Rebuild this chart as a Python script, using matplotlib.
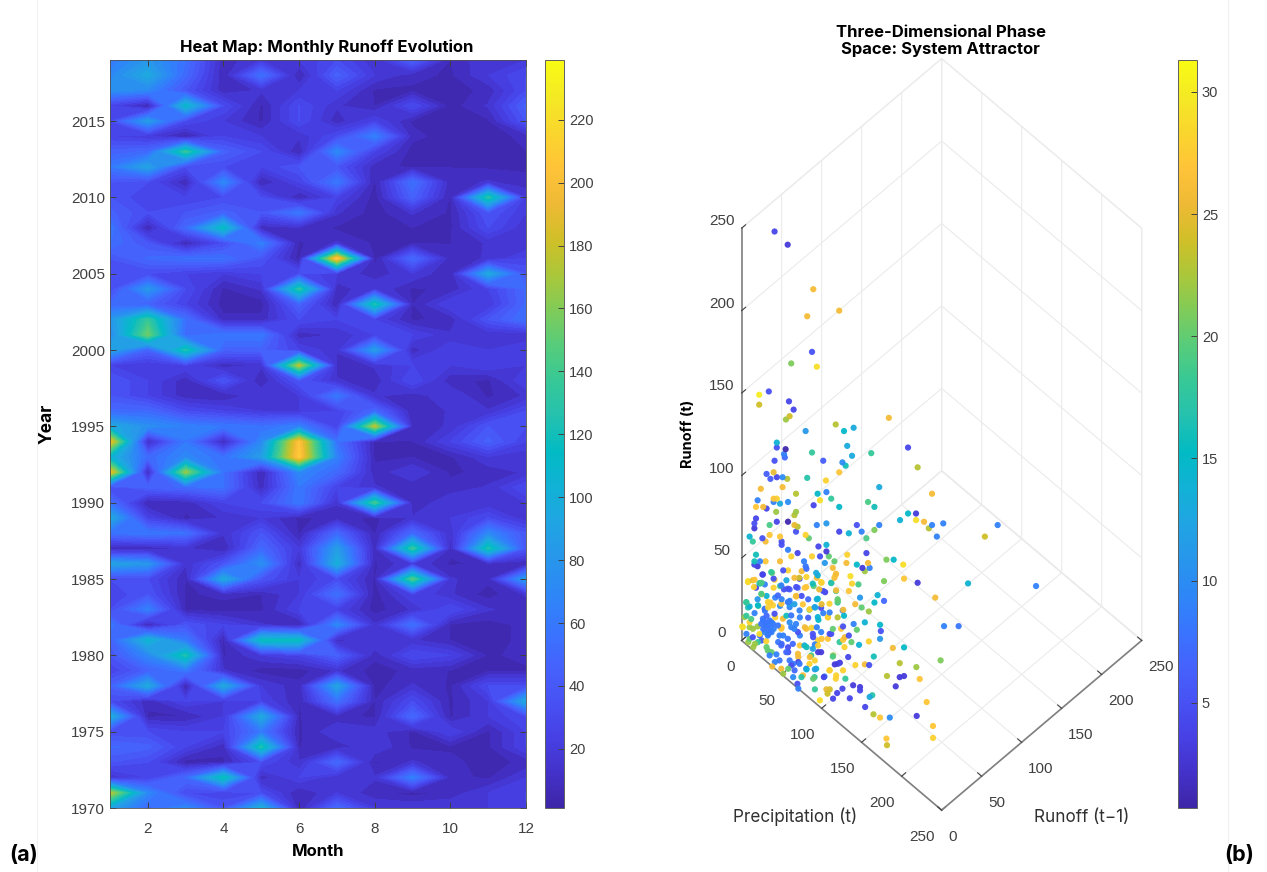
import numpy as np
import matplotlib
matplotlib.use('Agg')
import matplotlib.pyplot as plt
from matplotlib.cm import ScalarMappable
from matplotlib.colors import LinearSegmentedColormap, Normalize
from matplotlib.lines import Line2D

months = np.arange(1, 13)
years = np.arange(1970, 2020)
month_ticks = [2, 4, 6, 8, 10, 12]
year_ticks = [1970, 1975, 1980, 1985, 1990, 1995, 2000, 2005, 2010, 2015]
heat_cbar_ticks = [20, 40, 60, 80, 100, 120, 140, 160, 180, 200, 220]
phase_ticks = [0, 50, 100, 150, 200, 250]
day_ticks = [5, 10, 15, 20, 25, 30]

# monthly runoff, newest year first
runoff_rows = [
    [60, 80, 55, 9, 19, 19, 31, 14, 45, 7, 19, 19],  # 2019
    [70, 95, 50, 7, 55, 6, 45, 19, 9, 6, 19, 31],
    [75, 70, 37, 9, 14, 19, 25, 6, 6, 4, 9, 31],
    [25, 4, 110, 31, 6, 31, 14, 7, 31, 4, 14, 45],
    [31, 85, 31, 19, 6, 31, 9, 25, 6, 4, 6, 37],  # 2015
    [25, 19, 4, 25, 19, 14, 31, 65, 9, 4, 4, 9],
    [45, 50, 135, 45, 31, 7, 70, 25, 4, 4, 4, 7],
    [60, 90, 31, 31, 25, 37, 37, 9, 6, 7, 6, 6],
    [37, 31, 7, 70, 6, 25, 60, 6, 55, 9, 14, 9],
    [37, 25, 25, 31, 31, 7, 25, 4, 45, 6, 130, 19],  # 2010
    [45, 31, 37, 45, 37, 60, 14, 4, 14, 6, 37, 19],
    [60, 6, 50, 115, 9, 12, 6, 6, 7, 6, 31, 14],
    [55, 37, 6, 31, 65, 6, 14, 6, 7, 7, 14, 14],
    [37, 50, 55, 55, 37, 4, 210, 4, 50, 9, 14, 25],
    [31, 31, 25, 19, 25, 31, 19, 9, 19, 7, 95, 37],  # 2005
    [31, 80, 31, 6, 14, 130, 9, 19, 6, 9, 25, 50],
    [50, 45, 25, 4, 4, 45, 7, 125, 7, 25, 19, 50],
    [80, 135, 55, 9, 9, 31, 25, 25, 6, 9, 37, 55],
    [70, 155, 50, 60, 60, 9, 14, 25, 25, 14, 14, 14],
    [90, 45, 125, 45, 45, 25, 14, 85, 9, 25, 19, 25],  # 2000
    [25, 19, 25, 9, 14, 175, 9, 14, 25, 19, 25, 19],
    [37, 25, 9, 37, 7, 37, 14, 9, 31, 9, 6, 25],
    [37, 25, 9, 7, 19, 19, 60, 14, 9, 19, 6, 14],
    [50, 50, 31, 25, 19, 19, 25, 50, 7, 14, 14, 31],
    [95, 75, 65, 60, 55, 65, 25, 175, 9, 14, 37, 31],  # 1995
    [195, 9, 60, 7, 70, 205, 55, 6, 7, 25, 45, 25],
    [105, 50, 70, 55, 85, 210, 65, 6, 7, 6, 19, 14],
    [195, 7, 165, 55, 6, 70, 50, 9, 19, 6, 9, 14],
    [31, 45, 50, 55, 9, 60, 25, 14, 9, 9, 14, 31],
    [55, 6, 9, 25, 31, 60, 14, 140, 7, 19, 14, 19],  # 1990
    [95, 25, 6, 14, 19, 6, 9, 6, 14, 19, 31, 14],
    [55, 60, 55, 14, 37, 6, 50, 6, 50, 14, 70, 37],
    [6, 7, 14, 6, 50, 19, 85, 9, 135, 9, 125, 37],
    [90, 80, 14, 37, 75, 9, 100, 6, 19, 6, 9, 7],
    [31, 31, 7, 95, 37, 19, 31, 6, 145, 14, 9, 85],  # 1985
    [25, 37, 6, 9, 7, 19, 55, 4, 25, 14, 4, 14],
    [31, 65, 6, 4, 6, 25, 25, 4, 14, 31, 14, 9],
    [60, 6, 37, 25, 14, 6, 70, 14, 55, 6, 4, 9],
    [45, 105, 60, 6, 115, 115, 9, 19, 14, 7, 4, 9],
    [37, 70, 125, 6, 19, 25, 45, 9, 31, 25, 6, 9],  # 1980
    [25, 45, 60, 14, 4, 4, 14, 4, 9, 7, 6, 6],
    [45, 95, 4, 95, 19, 9, 90, 4, 14, 6, 31, 31],
    [31, 9, 25, 19, 25, 7, 55, 7, 31, 6, 19, 95],
    [100, 6, 7, 19, 95, 7, 9, 6, 50, 6, 19, 31],
    [31, 31, 25, 25, 60, 6, 19, 16, 6, 25, 6, 25],  # 1975
    [50, 45, 25, 9, 125, 7, 9, 19, 6, 6, 6, 25],
    [37, 31, 4, 6, 31, 14, 50, 6, 14, 9, 4, 9],
    [14, 25, 50, 120, 9, 25, 14, 14, 65, 9, 6, 19],
    [175, 70, 31, 25, 31, 7, 19, 9, 4, 9, 19, 25],
    [90, 50, 70, 37, 100, 6, 50, 19, 19, 19, 19, 25],  # 1970
]

# a flat picture can't give depth, so the points above the floor are taken
# with precipitation = previous runoff, the ones on the floor with runoff 0
upper_precip = [
    20.6, 28.8, 44.8, 41, 61, 44, 31, 47, 11, 17, 11, 29.6, 32.5, 30, 27.7, 58.8, 64, 70, 92, 40,
    22, 22, 27.5, 104, 66, 44, 81, 69, 26.5, 27, 20.6, 51, 63, 65, 110, 20, 15.6, 61, 18, 22,
    25.6, 28.5, 41, 52.7, 86, 12, 25.6, 34, 47.5, 53, 119, 20, 22, 10, 20, 24, 29, 49, 56, 45,
    61, 79, 83, 9, 13.5, 15.6,
    21.6, 34, 33, 9, 8, 17.5, 22, 29, 33, 35, 47, 53, 72, 99, 104, 109, 109, 114, 119, 126,
    117, 160, 152, 122, 86, 83, 75, 67, 61, 34, 8, 5, 13, 17.5, 24, 40, 42, 78, 7, 15,
    25, 25, 48, 53, 29, 35, 53, 78, 9, 31, 44, 49, 54.5, 66, 90.5, 95, 8, 11.5, 15, 24,
    39, 52, 58, 65.5, 72, 79, 101, 40, 8, 10, 57, 75.5, 80, 13, 19, 26, 29, 37.5, 40.5, 46.6,
    77, 59, 58, 68, 101.5, 89, 110, 141.5, 184, 4, 7, 12.5, 14.5, 20, 28, 33, 36, 40.5, 47, 50,
    56, 69, 73, 9, 11.5, 20, 24, 26.5, 30, 35, 39.5, 45, 48.5, 51, 59, 67, 121, 74, 85, 89,
    83, 12.5, 10, 15.6, 21, 25, 34, 37.5, 41.6, 47, 60, 3, 18, 30, 33, 46, 50, 60, 63.5, 71,
    75, 79.5, 4, 10.4, 16.6, 24, 30, 42.6, 51, 55, 64, 3, 6, 14.6, 15.6, 21, 28, 36.4, 41.6, 48,
    54, 30, 34, 39.5, 43.7, 47, 57, 63.4, 70, 77, 86.5, 87, 126.5, 135.6, 0.4, 5, 10, 14.6, 17.7, 20,
    25, 33, 60, 55, 72, 67, 86.5, 3, 7, 11.4, 16.6, 18.7, 26, 36.4, 44.7, 50, 63.4, 64.5,
    13.5, 15.6, 13.5, 18.7, 16.6, 14.6,
]
upper_runoff = [
    248, 240, 213, 196.6, 200, 175, 168, 166, 149, 151, 143, 145, 140, 136, 134, 131, 127, 129, 135, 127,
    120, 117, 116, 117, 118, 114, 113.6, 112, 113, 111, 109, 109, 108, 106, 105, 102, 101, 102, 98, 99,
    99, 98, 98.6, 97, 93, 92, 93, 89, 89, 90, 89, 86, 86, 85, 84, 83, 84, 85, 86, 82,
    81, 84, 81, 81, 81, 80,
    78, 78, 76, 74, 71, 70, 72, 72, 70, 69, 70, 71, 70, 73, 77, 77, 73, 72, 70, 71,
    68, 70, 63, 63, 70, 67, 66, 65, 66, 66, 68, 63, 62, 64, 63, 64, 62, 62, 60, 60,
    60, 58, 57, 58, 55, 53, 54, 53, 52, 51, 51, 51, 51, 52, 49, 49, 48, 48, 48, 48,
    48, 47, 48, 47, 46, 47, 46, 45, 46, 45, 44, 44, 44, 40, 41, 42.5, 42.5, 42, 43.5, 41,
    42, 40.5, 38, 39, 37.5, 36, 35, 34.6, 33, 36, 36.5, 35, 34, 37.5, 36.5, 38, 38, 38.5, 38, 35,
    35, 34.5, 34, 32, 34.5, 32, 33, 31, 31, 32, 32, 33, 31, 30, 30, 30, 26, 26, 27.5, 24,
    23, 28, 25, 27, 26, 25, 27, 27, 25, 25, 25, 23, 23, 24, 22, 20, 22, 23, 18.6, 22,
    20, 17.6, 20, 21, 20, 21, 22, 19, 16.6, 17, 15, 15, 13, 18, 15, 14, 15, 14, 13.8, 12.5,
    14, 11, 10, 8, 7.7, 8, 7, 8.5, 10, 11, 9.5, 5.7, 8.7, 8.7, 8.5, 8, 8.5, 9, 9.7, 7,
    8, 7, 14, 4, 6.5, 3, 1, 4, 2, 3, 4, 5, 3, 3, 2, 1, 0.4, 2,
    12, 11, 7, 11, 7, 5,
]
upper_day = [
    4, 3, 26, 26, 26, 5, 21, 29, 30, 5, 24, 4, 4, 24, 22, 23, 15, 13, 26, 11,
    14, 5, 1, 4, 13, 18, 18, 13, 9, 7, 5, 6, 10, 16, 23, 25, 6, 27, 6, 4,
    10, 23, 17, 28, 13, 26, 26, 23, 15, 9, 26, 27, 28, 9, 9, 13, 10, 29, 18, 4,
    15, 19, 16, 27, 26, 4,
    22, 22, 23, 4, 5, 19, 4, 1, 25, 23, 9, 11, 5, 14, 15, 3, 29, 26, 9, 9,
    23, 9, 24, 9, 9, 21, 9, 14, 4, 5, 3, 14, 5, 27, 27, 28, 20, 19, 18, 26,
    5, 5, 4, 14, 9, 4, 3, 4, 16, 28, 28, 5, 20, 28, 21, 15, 16, 9, 27, 26,
    9, 11, 20, 26, 15, 26, 29, 8, 4, 3, 26, 3, 9, 4, 20, 5, 28, 26, 7, 13,
    22, 26, 26, 29, 27, 21, 3, 14, 9, 29, 25, 19, 9, 5, 13, 26, 24, 28, 26, 28,
    17, 28, 19, 4, 18, 28, 19, 5, 6, 6, 27, 20, 25, 5, 18, 27, 26, 11, 14, 7,
    15, 24, 11, 14, 9, 9, 26, 5, 7, 14, 20, 18, 27, 9, 12, 14, 25, 18, 26, 26,
    20, 22, 17, 19, 28, 10, 12, 28, 9, 9, 15, 18, 19, 8, 7, 28, 16, 9, 6, 15,
    26, 10, 9, 26, 28, 9, 20, 5, 9, 14, 15, 5, 9, 8, 29, 22, 22, 8, 8, 9,
    27, 9, 23, 5, 20, 5, 11, 9, 5, 7, 8, 9, 9, 9, 5, 27, 27, 26,
    8, 8, 8, 9, 8, 9,
]
# second reading of the dense cluster near the origin
cluster_precip = [
    13.3, 18.5, 20.6, 8.1, 4, 11.2, 7.7, 24.8, 28.9, 34.1, 36.2, 40.4, 44.5, 49.7, 47.6, 56, 58.7, 12.3, 16.4, 22.7,
    28.9, 34.1, 38.3, 47.6, 52.2, 59.1, 2.9, 5, 10.2, 19.6, 24.8, 30, 36.2, 45.6, 49.7, 54.9, 60.1, 63.2, 8.1, 14.4,
    20.6, 25.8, 31, 42.4, 47.6, 53.9, 1.9, 5, 13.3, 17.5, 19.6, 15.4, 12.3, 22.7, 18.5, 24.8, 31, 35.2, 40.4, 44.5,
    49.7, 56, 62.2, 0.8, 7.1, 11.2, 16.4, 23.7, 28.9, 47.6, 53.9, 5,
]
cluster_runoff = [
    40, 41.5, 36.8, 36.8, 35.4, 34.8, 32.4, 33.4, 31.4, 32.4, 37.4, 32.4, 34.4, 35.4, 39.5, 34.8, 39.5, 28.3, 23.3, 27.3,
    23.3, 26.7, 21.9, 25.3, 29.3, 30.4, 23.3, 20.6, 21.3, 21.3, 22.3, 20.2, 18.2, 20.2, 19.8, 22.3, 23.9, 18.2, 16.6, 19.2,
    16.2, 13.2, 15.2, 18.6, 14.2, 14.2, 14.2, 11.1, 13.2, 12.1, 10.1, 9.1, 10.1, 9.1, 6.1, 7.1, 8.1, 5.1, 7.1, 4,
    5.1, 4, 7.1, 8.1, 7.1, 4, 3, 3, 1, 0, 1, 1,
]
cluster_day = [
    4, 18, 28, 27, 28, 17, 28, 9, 5, 5, 5, 27, 16, 28, 14, 17, 27, 19, 28, 7,
    8, 26, 27, 14, 4, 26, 18, 14, 15, 28, 27, 9, 9, 12, 5, 28, 20, 9, 9, 8,
    5, 26, 8, 21, 14, 28, 22, 28, 8, 8, 8, 8, 8, 8, 8, 27, 9, 5, 26, 5,
    9, 5, 27, 29, 22, 29, 9, 9, 8, 28, 27, 20,
]
floor_precip = [
    5.4, 10.8, 12.5, 20.5, 24, 27.5, 34, 40, 45.5, 48.7, 51.5, 69.8, 76.6, 100, 106.6, 80.2, 12.2, 27.3, 32, 37.7,
    47.6, 54.8, 60.5, 56.4, 68.2, 78.8, 94.4, 36.7, 49.4, 51.3, 77.8, 75.8, 85.4, 89.2, 94.6, 97.8, 115.5, 139, 128.8, 38.3,
    50, 61.9, 67, 77, 64.4, 72.9, 78.4, 87, 93, 117, 125.8, 127.7, 139.7, 50.5, 59.2, 66.8, 70.9, 81.8, 89, 91.1,
    102.7, 108.3, 110.8, 130.1, 98.5, 98.4, 92.9, 100, 110.2, 121.6, 122, 93, 161, 126.2, 136.8, 143.3, 149.4, 165, 182.6, 191.4,
    162.8, 168,
    43, 62.4, 69.2, 11.4, 15.9, 28.5, 34.5, 50.6, 58.3, 23.8, 36.5, 45, 54.5, 28.5, 38.4, 44.7, 59.6, 68.8, 49.4, 53.4,
    61.2, 67.4, 77.3, 76.9, 45.6, 55.1, 64, 72.6, 78.3, 84.8,
]
floor_prev = [
    3, 5.8, 12.5, 10.7, 21.7, 22.5, 24, 32.7, 35.7, 42.9, 44, 67.4, 70.2, 89, 96.4, 78.8, 2.4, 10.1, 11.5, 20.5,
    23.2, 30.4, 31, 39.2, 46.2, 54.4, 70.8, 4.9, 15, 19.5, 45, 40.6, 41.4, 53, 59.4, 61.6, 82.1, 109.7, 89.6, 0,
    8.3, 19.3, 24.5, 33, 10.4, 16.5, 24.4, 30.7, 36.7, 64.7, 71.8, 75.3, 82.9, 1.5, 5.2, 3, 0, 9.8, 17, 19.1,
    36.7, 39.7, 37.2, 62.5, 27.5, 21, 14.5, 14.3, 25, 38.4, 41.3, 4.8, 70.3, 28.2, 28, 29.7, 35.8, 53.8, 56.6, 47.8,
    18.2, 13.7,
    35.6, 60, 59.4, 9, 14.9, 21.1, 29.5, 38.4, 41.1, 9, 19.3, 25.4, 32.5, 6.5, 9, 15.3, 25.2, 45.2, 12.6, 19,
    19.6, 25.8, 42.9, 32.9, 4, 11.1, 12.6, 18.6, 25.3, 33.4,
]
floor_day = [
    22, 22, 6, 20, 8, 7, 5, 27, 16, 9, 28, 20, 14, 26, 15, 28, 22, 20, 9, 5,
    26, 26, 28, 3, 22, 4, 16, 9, 8, 4, 3, 3, 28, 28, 26, 5, 23, 21, 22, 26,
    20, 14, 12, 26, 17, 20, 4, 28, 18, 23, 3, 3, 27, 22, 10, 5, 9, 18, 25, 24,
    3, 3, 4, 3, 4, 4, 24, 4, 4, 13, 17, 29, 27, 4, 23, 27, 10, 3, 27, 28,
    27, 24,
    14, 18, 28, 18, 28, 7, 7, 12, 3, 20, 7, 26, 19, 9, 8, 8, 28, 19, 5, 8,
    9, 14, 4, 28, 26, 7, 26, 18, 9, 28,
]

parula_colors = [
    (0.2422, 0.1504, 0.6603), (0.2647, 0.1978, 0.7952), (0.2783, 0.2559, 0.8991),
    (0.2810, 0.3228, 0.9579), (0.2699, 0.3892, 0.9906), (0.2206, 0.4603, 0.9973),
    (0.1786, 0.5289, 0.9682), (0.1540, 0.5902, 0.9218), (0.1248, 0.6459, 0.8883),
    (0.0689, 0.6948, 0.8394), (0.0067, 0.7312, 0.7660), (0.1408, 0.7584, 0.6842),
    (0.2161, 0.7843, 0.5923), (0.3406, 0.8008, 0.4789), (0.5044, 0.7993, 0.3480),
    (0.6720, 0.7793, 0.2227), (0.8203, 0.7498, 0.1535), (0.9393, 0.7288, 0.2100),
    (0.9970, 0.7659, 0.2199), (0.9786, 0.8386, 0.1766), (0.9597, 0.9135, 0.1423),
    (0.9769, 0.9839, 0.0805),
]
parula = LinearSegmentedColormap.from_list('parula', parula_colors, N=256)

W, H = 1267, 872
TICK_FONT = 'Liberation Sans'
LABEL_FONT = 'Inter'
TICK_COLOR = '#404040'


def px_rect(left, top, right, bottom):
    return [left / W, 1 - bottom / H, (right - left) / W, (bottom - top) / H]


def style_cbar(cbar, ticks):
    cbar.set_ticks(ticks)
    cbar.ax.tick_params(direction='in', length=4, width=0.7, colors=TICK_COLOR, labelsize=10.5)
    for label in cbar.ax.get_yticklabels():
        label.set_family(TICK_FONT)
    cbar.outline.set_edgecolor('#606060')
    cbar.outline.set_linewidth(0.7)


def plot_heat(fig):
    ax = fig.add_axes(px_rect(110, 60, 526, 808))
    grid = np.array(runoff_rows)[::-1]
    norm = Normalize(1.2, 239)
    ax.contourf(months, years, grid, levels=np.linspace(1.2, 239, 41), cmap=parula, norm=norm)
    ax.set_xticks(month_ticks)
    ax.set_yticks(year_ticks)
    ax.set_ylim(1970, 2019)
    ax.tick_params(direction='in', top=True, right=True, length=4, width=0.7,
                   colors=TICK_COLOR, labelsize=11)
    ax.tick_params(axis='x', pad=10)
    for label in ax.get_xticklabels() + ax.get_yticklabels():
        label.set_family(TICK_FONT)
    for spine in ax.spines.values():
        spine.set_color('#505050')
        spine.set_linewidth(0.6)
    ax.set_xlabel('Month', family=LABEL_FONT, fontweight='bold', fontsize=12, labelpad=6)
    ax.set_ylabel('Year', family=LABEL_FONT, fontweight='bold', fontsize=12.5, labelpad=11, y=0.513)
    ax.set_title('Heat Map: Monthly Runoff Evolution', family=LABEL_FONT, fontweight='bold',
                 fontsize=12, pad=6, x=0.5216)

    cax = fig.add_axes(px_rect(545, 60, 564, 808))
    cbar = fig.colorbar(ScalarMappable(norm=norm, cmap=parula), cax=cax)
    style_cbar(cbar, heat_cbar_ticks)


def plot_phase(fig):
    ax = fig.add_axes(px_rect(613, 123, 1253, 763), projection='3d', proj_type='ortho')
    ax.patch.set_alpha(0)
    ax.view_init(elev=58, azim=-45)
    ax.set_box_aspect((1, 1, 2.75), zoom=1.327)

    precip = upper_precip + cluster_precip + floor_precip
    prev = upper_precip + cluster_precip + floor_prev
    runoff = upper_runoff + cluster_runoff + [0] * len(floor_precip)
    days = upper_day + cluster_day + floor_day
    norm = Normalize(0.7, 31.3)
    ax.scatter(precip, prev, runoff, c=days, cmap=parula, norm=norm, s=20, linewidths=0,
               depthshade=False, alpha=0.95)

    ax.set_xlim(0, 250)
    ax.set_ylim(0, 250)
    ax.set_zlim(0, 250)
    for axis in (ax.xaxis, ax.yaxis, ax.zaxis):
        axis.set_ticks(phase_ticks)
        axis.pane.set_facecolor('white')
        axis.pane.set_edgecolor('#e0e0e0')
        axis.line.set_color('#808080')
        axis.line.set_linewidth(1.2)
        axis._axinfo['grid']['color'] = '#ebebeb'
        axis._axinfo['grid']['linewidth'] = 0.8
        axis._axinfo['tick']['color'] = '#707070'
        axis._axinfo['tick']['inward_factor'] = 0
        axis._axinfo['tick']['outward_factor'] = 0.25
        axis.set_rotate_label(False)
    ax.zaxis.set_ticks_position('lower')
    ax.zaxis.set_label_position('lower')

    ax.tick_params(axis='x', pad=0, colors=TICK_COLOR, labelsize=11)
    ax.tick_params(axis='y', pad=0, colors=TICK_COLOR, labelsize=11)
    ax.tick_params(axis='z', pad=4, colors=TICK_COLOR, labelsize=11)
    for label in ax.get_xticklabels():
        label.set(family=TICK_FONT, ha='right')
    for label in ax.get_yticklabels():
        label.set(family=TICK_FONT, ha='left')
    for label in ax.get_zticklabels():
        label.set(family=TICK_FONT, va='bottom')

    ax.set_zlabel('Runoff (t)', family=LABEL_FONT, fontsize=10.5, fontweight='bold', rotation=90, labelpad=11)
    ax.set_title('Three-Dimensional Phase\nSpace: System Attractor', family=LABEL_FONT,
                 fontweight='bold', fontsize=12, x=0.512, y=1.19, linespacing=1.2)
    fig.text(795 / W, 1 - 817 / H, 'Precipitation (t)', family=LABEL_FONT, fontsize=12.3,
             color='#303030', ha='center', va='center')
    fig.text(1082 / W, 1 - 817 / H, 'Runoff (t\u22121)', family=LABEL_FONT, fontsize=12.3,
             color='#303030', ha='center', va='center')

    cax = fig.add_axes(px_rect(1178, 60, 1197, 808))
    cbar = fig.colorbar(ScalarMappable(norm=norm, cmap=parula), cax=cax)
    style_cbar(cbar, day_ticks)


def main():
    fig = plt.figure(figsize=(W / 100, H / 100), dpi=100)
    for x in (37, 1228):
        fig.add_artist(Line2D([x / W, x / W], [0, 1], color='#f0f0f0', linewidth=0.8))
    plot_heat(fig)
    plot_phase(fig)
    fig.text(24 / W, 1 - 855 / H, '(a)', family=LABEL_FONT, fontweight='bold', fontsize=15.5,
             ha='center', va='center')
    fig.text(1239 / W, 1 - 855 / H, '(b)', family=LABEL_FONT, fontweight='bold', fontsize=15.5,
             ha='center', va='center')
    fig.savefig('out.png', dpi=100)


main()
